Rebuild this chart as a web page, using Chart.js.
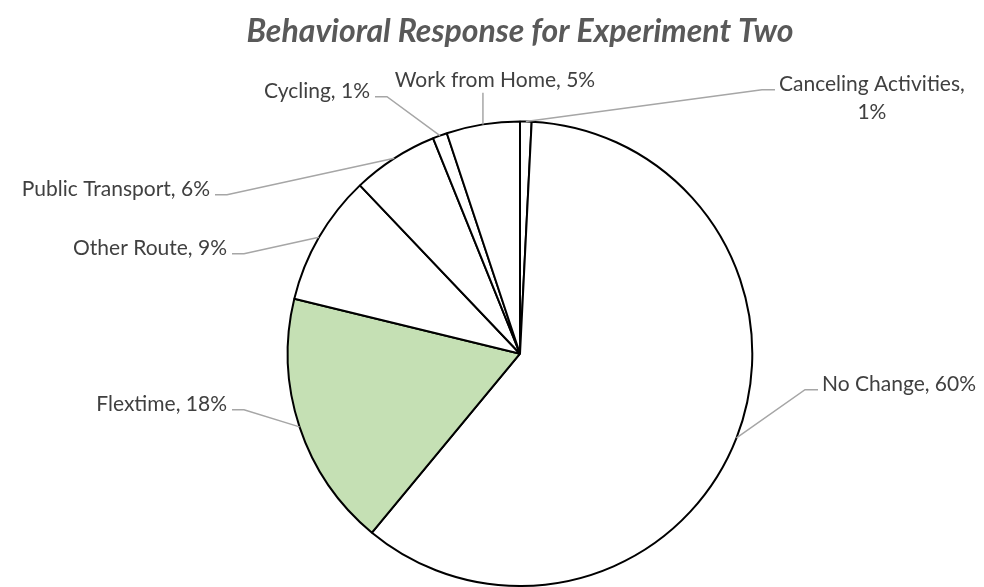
<!DOCTYPE html>
<html>
<head>
<meta charset="utf-8">
<script src="https://cdn.jsdelivr.net/npm/chart.js@4.4.0/dist/chart.umd.min.js"></script>
<style>
  html, body { margin: 0; padding: 0; background: #fff; }
</style>
</head>
<body>
<canvas id="pieChart" width="984" height="587"></canvas>
<script>
const categories = ['Canceling Activities', 'No Change', 'Flextime', 'Other Route', 'Public Transport', 'Cycling', 'Work from Home'];
const shares = [0.8, 60.2, 17.8, 9.1, 6.0, 1.0, 5.1];
const sliceColors = ['#ffffff', '#ffffff', '#c5e0b4', '#ffffff', '#ffffff', '#ffffff', '#ffffff'];

// label anchors measured from the pie centre (px), anchor y is the text baseline
// side: 'right' = text sits right of its leader, 'left' = left of it, 'top' = above the slice
const labelSpots = [
    { dx: 259, dy: -263, side: 'right', wrap: true },
    { dx: 302, dy: 37, side: 'right' },
    { dx: -293, dy: 57, side: 'left' },
    { dx: -293, dy: -99, side: 'left' },
    { dx: -310, dy: -158, side: 'left' },
    { dx: -150, dy: -256, side: 'left' },
    { dx: -25, dy: -267, side: 'top' }
];

const LABEL_FONT = '21px Lato';
const total = shares.reduce((a, b) => a + b, 0);

const pieLabels = {
    id: 'pieLabels',
    afterDatasetsDraw(chart) {
        const ctx = chart.ctx;
        const meta = chart.getDatasetMeta(0);
        ctx.save();
        ctx.font = LABEL_FONT;
        ctx.textBaseline = 'alphabetic';
        meta.data.forEach((arc, i) => {
            const { x, y, startAngle, endAngle, outerRadius } =
                arc.getProps(['x', 'y', 'startAngle', 'endAngle', 'outerRadius'], true);
            const mid = (startAngle + endAngle) / 2;
            const ex = x + Math.cos(mid) * outerRadius;
            const ey = y + Math.sin(mid) * outerRadius;
            const spot = labelSpots[i];
            const ax = x + spot.dx;
            const ay = y + spot.dy;
            const pct = Math.round(shares[i] / total * 100) + '%';
            const lines = spot.wrap ? [categories[i] + ',', pct] : [categories[i] + ', ' + pct];

            // leader line
            ctx.strokeStyle = '#a6a6a6';
            ctx.lineWidth = 1.5;
            ctx.beginPath();
            if (spot.side === 'top') {
                ctx.moveTo(ex, ay + 6);
                ctx.lineTo(ex, ey);
            } else if (spot.side === 'left') {
                ctx.moveTo(ax + 5, ay - 1);
                ctx.lineTo(ax + 17, ay - 1);
                ctx.lineTo(ex, ey);
            } else {
                ctx.moveTo(ax - 4, ay - 1);
                ctx.lineTo(ax - 17, ay - 1);
                ctx.lineTo(ex, ey);
            }
            ctx.stroke();

            // text
            ctx.fillStyle = '#404040';
            if (spot.side === 'top') {
                ctx.textAlign = 'center';
                ctx.fillText(lines[0], ax, ay);
            } else if (spot.side === 'left') {
                ctx.textAlign = 'right';
                ctx.fillText(lines[0], ax, ay);
            } else if (lines.length > 1) {
                const w = ctx.measureText(lines[0]).width;
                ctx.textAlign = 'center';
                lines.forEach((line, k) => ctx.fillText(line, ax + w / 2, ay + k * 28));
            } else {
                ctx.textAlign = 'left';
                ctx.fillText(lines[0], ax, ay);
            }
        });
        ctx.restore();
    }
};

const ctx = document.getElementById('pieChart').getContext('2d');
const chart = new Chart(ctx, {
    type: 'pie',
    data: {
        labels: categories,
        datasets: [{
            data: shares,
            backgroundColor: sliceColors,
            borderColor: '#000000',
            borderWidth: 2,
            hoverBorderWidth: 2
        }]
    },
    options: {
        responsive: false,
        animation: false,
        layout: {
            padding: { left: 150, right: 94, top: 0, bottom: 0 }
        },
        plugins: {
            legend: { display: false },
            tooltip: { enabled: false },
            title: {
                display: true,
                text: 'Behavioral Response for Experiment Two',
                color: '#595959',
                font: { family: 'Lato', size: 32, weight: 'bold', style: 'italic', lineHeight: 1.2 },
                padding: { top: 12, bottom: 70 }
            }
        }
    },
    plugins: [pieLabels]
});
</script>
</body>
</html>
